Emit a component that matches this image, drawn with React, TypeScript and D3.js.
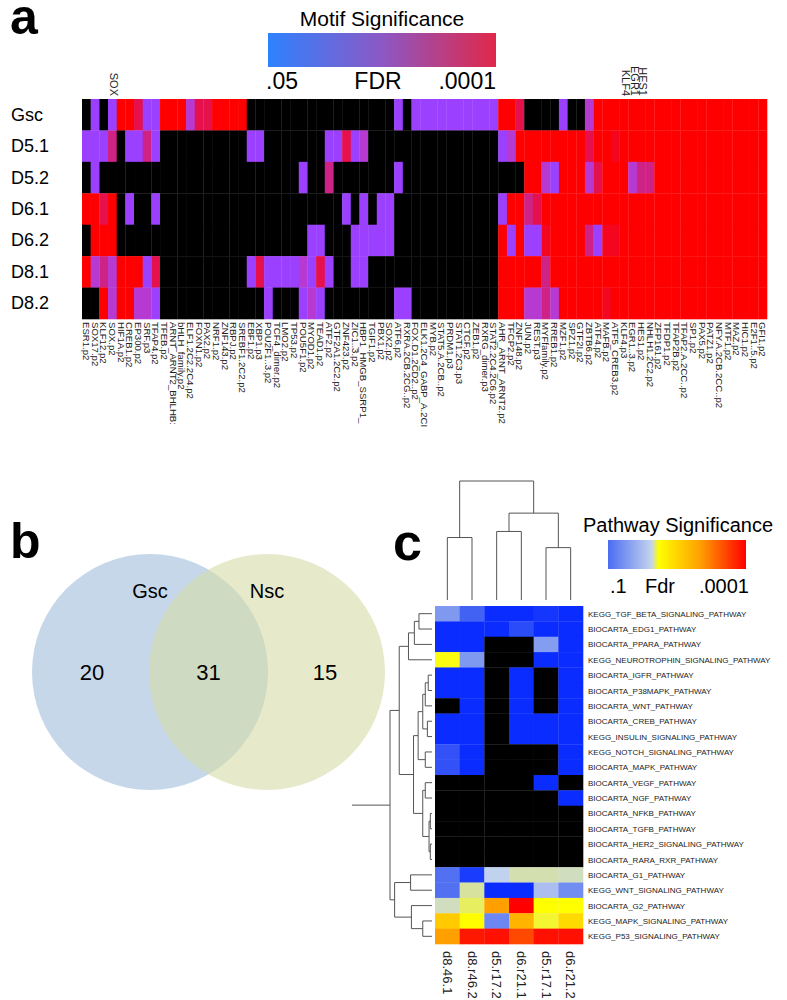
import React from "react";
import * as d3 from "d3";

// ---------- Panel a data ----------
const MOTIF_ROWS = ["Gsc", "D5.1", "D5.2", "D6.1", "D6.2", "D8.1", "D8.2"];
const MOTIF_COLS = ["ESR1.p2","SOX17.p2","KLF12.p2","SOX.p2","HIF1A.p2","CREB1.p2","EP300.p2","SRF.p3","TFAP4.p2","TFEB.p2","ARNT_ARNT2_BHLHB:","bHLH_family.p2","ELF1.2C2.2C4.p2","FOXN1.p2","PAX2.p2","NRF1.p2","ZNF143.p2","RBPJ.p2","SREBF1.2C2.p2","EBF1.p2","XBP1.p3","POU2F1..3.p2","TCF4_dimer.p2","LMO2.p2","TP53.p2","POU5F1.p2","MYOD1.p2","TEAD1.p2","ATF2.p2","GTF2A1.2C2.p2","ZNF423.p2","ZIC1..3.p2","HBP1_HMGB_SSRP1_","TGIF1.p2","PBX1.p2","SOX2.p2","ATF6.p2","RXRA.2CB.2CG..p2","FOX.D1.2CD2..p2","ELK1.2C4_GABP_A.2CI","MYB.p2","STAT5.A.2CB..p2","PRDM1.p3","STAT1.2C3.p3","CTCF.p2","ZEB1.p2","RXRG_dimer.p3","STAT2.2C4.2C6.p2","AHR_ARNT_ARNT2.p2","TFCP2.p2","ZNF148.p2","JUN.p2","REST.p3","MYFfamily.p2","RREB1.p2","MZF1.p2","SPZ1.p2","GTF2I.p2","ZBTB6.p2","ATF4.p2","MAFB.p2","ATF5_CREB3.p2","KLF4.p3","EGR1..3.p2","HES1.p2","NHLH1.2C2.p2","ZFP161.p2","TFDP1.p2","TFAP2B.p2","TFAP2.A.2CC..p2","SP1.p2","PAX5.p2","PATZ1.p2","NFY.A.2CB.2CC..p2","MTF1.p2","MAZ.p2","HIC1.p2","E2F1..5.p2","GFI1.p2"];
// one code per motif column: "." not significant, p..r increasing significance
const MOTIF_CODES = [
  ".p.prrcppr" + "rrqccrrrr." + ".........." + "......p.pp" + "pppppppprr" + "c....p..qr" + "rrrrrrrrrr" + "rrrrrrrrr",
  "pppm.ppmp." + ".........p" + "p.......pp" + "cpq......." + "........pq" + "rrrrrrrrcr" + "rdrrrrrrrr" + "rrrrrrrrr",
  ".p........" + ".........." + ".....p..m." + "......p..." + ".........." + ".rrqprrrqc" + "rrrqmmrrrr" + "rrrrrrrrr",
  "rrcr.p..p." + ".........." + ".........." + "p.p.pp...." + "........pr" + "rmcrrrrrrr" + "rrrrrrrrrr" + "rrrrrrrrr",
  ".rrr......" + ".........." + "......pp.." + ".ppppp...." + "........rp" + "rppdrrrrmp" + "ddrrrrrrrr" + "rrrrrrrrr",
  "rqmqrrrpc." + ".........p" + "cppppqpcp." + ".pp......." + "........rr" + "rrrmrrrrrr" + "rrrrrrrrrr" + "rrrrrrrrr",
  "..rqrrqqp." + ".........." + ".p...pqp.." + "......pp.." + "........rr" + "rqqmqrrrrr" + "drrrrrrrrr" + "rrrrrrrrr",
];
// -log10(FDR) for each code
const MOTIF_LEVEL: Record<string, number> = { ".": 0, p: 1.3, q: 2.0, m: 2.6, c: 3.2, d: 3.6, r: 4.0 };
const MOTIF_COLOR_DOMAIN = [1.3, 2.0, 2.6, 3.2, 3.6, 4.0];
const MOTIF_COLOR_RANGE = ["#9b40ff", "#b63ad2", "#cf2286", "#e6104c", "#f5061f", "#ff0000"];
const MOTIF_LEGEND_COLORS = ["#2e82ff", "#8c58c4", "#e0284a"];
const MOTIF_LEGEND_LABELS = [".05", "FDR", ".0001"];
const MOTIF_HIGHLIGHTS = [
  { col: "SOX.p2", text: "SOX" },
  { col: "KLF4.p3", text: "KLF4" },
  { col: "EGR1..3.p2", text: "EGR1" },
  { col: "HES1.p2", text: "HES1" },
];

// ---------- Panel b data ----------
const VENN_SETS = ["Gsc", "Nsc"];
const VENN_COUNTS = [20, 31, 15]; // Gsc only, shared, Nsc only
const VENN_COLORS = ["#c6d7ea", "#d5dca6"];

// ---------- Panel c data ----------
const PATHWAYS = ["KEGG_TGF_BETA_SIGNALING_PATHWAY","BIOCARTA_EDG1_PATHWAY","BIOCARTA_PPARA_PATHWAY","KEGG_NEUROTROPHIN_SIGNALING_PATHWAY","BIOCARTA_IGFR_PATHWAY","BIOCARTA_P38MAPK_PATHWAY","BIOCARTA_WNT_PATHWAY","BIOCARTA_CREB_PATHWAY","KEGG_INSULIN_SIGNALING_PATHWAY","KEGG_NOTCH_SIGNALING_PATHWAY","BIOCARTA_MAPK_PATHWAY","BIOCARTA_VEGF_PATHWAY","BIOCARTA_NGF_PATHWAY","BIOCARTA_NFKB_PATHWAY","BIOCARTA_TGFB_PATHWAY","BIOCARTA_HER2_SIGNALING_PATHWAY","BIOCARTA_RARA_RXR_PATHWAY","BIOCARTA_G1_PATHWAY","KEGG_WNT_SIGNALING_PATHWAY","BIOCARTA_G2_PATHWAY","KEGG_MAPK_SIGNALING_PATHWAY","KEGG_P53_SIGNALING_PATHWAY"];
const SAMPLES = ["d8.46.1", "d8.r46.2", "d5.r17.2", "d6.r21.1", "d5.r17.1", "d6.r21.2"];
const N = null;
// -log10(FDR), null = not significant
const PATHWAY_VALUES: (number | null)[][] = [
  [1.4, 0.97, 0.8, 0.8, 0.83, 0.8],
  [0.8, 0.8, 0.8, 0.9, 0.8, 0.8],
  [0.8, 0.8, N, N, 1.45, 0.8],
  [2.09, 1.4, N, N, 0.8, 0.8],
  [0.8, 0.8, N, 0.8, N, 0.8],
  [0.8, 0.8, N, 0.8, N, 0.8],
  [N, 0.8, N, 0.8, N, 0.8],
  [0.8, 0.8, N, 0.8, 0.8, 0.8],
  [0.8, 0.8, N, 0.8, 0.8, 0.8],
  [0.92, 0.8, N, N, N, 0.8],
  [0.92, 0.8, N, N, N, 0.8],
  [N, N, N, N, 0.8, N],
  [N, N, N, N, N, 0.8],
  [N, N, N, N, N, N],
  [N, N, N, N, N, N],
  [N, N, N, N, N, N],
  [N, N, N, N, N, N],
  [1.05, 0.85, 1.93, 1.99, 1.99, 1.98],
  [1.05, 2.0, 0.8, 0.8, 1.75, 1.3],
  [1.98, 2.04, 3.0, 4.0, 2.1, 2.1],
  [2.6, 2.12, 1.25, 2.8, 2.07, 2.45],
  [3.0, 3.85, 3.9, 3.55, 3.9, 3.9],
];
const PATHWAY_COLOR_DOMAIN = [0.8, 1.0, 1.95, 2.1, 3.0, 4.0];
const PATHWAY_COLOR_RANGE = ["#0a2cff", "#4c6cf2", "#c4d4ee", "#ffff00", "#ffa000", "#ff0000"];
const PATHWAY_LEGEND_LABELS = [".1", "Fdr", ".0001"];
// dendrograms: [height, left, right]; leaves are row / column indices
type Tree = number | [number, Tree, Tree];
const ROW_TREE: Tree = [1.0,
  [0.78,
    [0.56, [0.42, [0.31, 0, 1], 2], 3],
    [0.44,
      [0.33, [0.22, [0.16, [0.09, 4, 5], 6], [0.11, 7, 8]], [0.16, 9, 10]],
      [0.22, [0.16, 11, 12], [0.07, [0.04, 13, 14], [0.04, 15, 16]]]]],
  [0.89, [0.51, 17, 18], [0.49, 19, [0.22, 20, 21]]]];
const COL_TREE: Tree = [1.0, [0.525, 0, 1], [0.73, [0.576, 2, 3], [0.44, 4, 5]]];

const FONT = "'Liberation Sans', Arial, Helvetica, sans-serif";
const NARROW = "'Liberation Sans Narrow', 'Liberation Sans', Arial, sans-serif";

function dendro(tree: Tree, leafPos: (i: number) => number, hPos: (h: number) => number, horizontal: boolean) {
  const segs: [number, number, number, number][] = [];
  const walk = (t: Tree): { p: number; h: number } => {
    if (typeof t === "number") return { p: leafPos(t), h: 0 };
    const [h, l, r] = t;
    const a = walk(l), b = walk(r);
    const H = hPos(h);
    if (horizontal) {
      segs.push([hPos(a.h), a.p, H, a.p]);
      segs.push([hPos(b.h), b.p, H, b.p]);
      segs.push([H, a.p, H, b.p]);
    } else {
      segs.push([a.p, hPos(a.h), a.p, H]);
      segs.push([b.p, hPos(b.h), b.p, H]);
      segs.push([a.p, H, b.p, H]);
    }
    return { p: (a.p + b.p) / 2, h };
  };
  const root = walk(tree);
  return { segs, root };
}

export default function App() {
  // ----- panel a -----
  const xA = d3.scaleBand().domain(MOTIF_COLS).range([82, 767]);
  const yA = d3.scaleBand().domain(MOTIF_ROWS).range([99, 319]);
  const colorA = d3.scaleLinear<string>().domain(MOTIF_COLOR_DOMAIN).range(MOTIF_COLOR_RANGE).clamp(true);
  const legA = { x: 268, w: 228, y: 33, h: 34 };

  // ----- panel b -----
  const vennR = 118;
  const xV = d3.scalePoint().domain(VENN_SETS).range([150, 267]);
  const vennCy = 672;

  // ----- panel c -----
  const xC = d3.scaleBand().domain(SAMPLES).range([435, 583]);
  const yC = d3.scaleBand().domain(PATHWAYS).range([606, 944]);
  const colorC = d3.scaleLinear<string>().domain(PATHWAY_COLOR_DOMAIN).range(PATHWAY_COLOR_RANGE).clamp(true);
  const rowH = d3.scaleLinear().domain([0, 1]).range([432, 390]);
  const colH = d3.scaleLinear().domain([0, 1]).range([600, 481]);
  const rowD = dendro(ROW_TREE, (i) => (yC(PATHWAYS[i]) as number) + yC.bandwidth() / 2, rowH, true);
  const colD = dendro(COL_TREE, (i) => (xC(SAMPLES[i]) as number) + xC.bandwidth() / 2, colH, false);
  const legC = { x: 608, w: 138, y: 540, h: 29 };
  const legCScale = d3.scaleLinear().domain([1.0, 4.0]).range([0, 100]);
  const legCStops = PATHWAY_COLOR_DOMAIN.filter((d) => d >= 1.0);

  return (
    <svg width={787} height={1000} style={{ position: "absolute", left: 0, top: 0, background: "#fff" }} fontFamily={FONT}>
      <defs>
        <linearGradient id="legA" x1="0" x2="1" y1="0" y2="0">
          {MOTIF_LEGEND_COLORS.map((c, i) => (
            <stop key={i} offset={`${(i / (MOTIF_LEGEND_COLORS.length - 1)) * 100}%`} stopColor={c} />
          ))}
        </linearGradient>
        <linearGradient id="legC" x1="0" x2="1" y1="0" y2="0">
          {legCStops.map((d, i) => (
            <stop key={i} offset={`${legCScale(d)}%`} stopColor={colorC(d)} />
          ))}
        </linearGradient>
      </defs>

      {/* ===== Panel a ===== */}
      <text x={10} y={34} fontSize={50} fontWeight="bold">a</text>
      <text x={legA.x + legA.w / 2} y={26} fontSize={21} textAnchor="middle">Motif Significance</text>
      <rect x={legA.x} y={legA.y} width={legA.w} height={legA.h} fill="url(#legA)" />
      <text x={legA.x - 2} y={89} fontSize={23} textAnchor="start">{MOTIF_LEGEND_LABELS[0]}</text>
      <text x={legA.x + legA.w / 2 - 4} y={89} fontSize={23} textAnchor="middle">{MOTIF_LEGEND_LABELS[1]}</text>
      <text x={legA.x + legA.w} y={89} fontSize={23} textAnchor="end">{MOTIF_LEGEND_LABELS[2]}</text>

      {MOTIF_HIGHLIGHTS.map((h) => {
        const cx = (xA(h.col) as number) + xA.bandwidth() / 2 - 2;
        return (
          <text key={h.text} transform={`translate(${cx},${96}) rotate(90)`} fontSize={11} textAnchor="end" fill="#222">{h.text}</text>
        );
      })}

      {MOTIF_ROWS.map((r, ri) => (
        <g key={r}>
          <text x={11} y={(yA(r) as number) + yA.bandwidth() / 2 + 6} fontSize={18}>{r}</text>
          {MOTIF_COLS.map((c, ci) => {
            const v = MOTIF_LEVEL[MOTIF_CODES[ri][ci]];
            return (
              <rect key={c} x={xA(c)} y={yA(r)} width={xA.bandwidth() + 0.3} height={yA.bandwidth() + 0.3}
                fill={v > 0 ? colorA(v) : "#000"} />
            );
          })}
        </g>
      ))}
      {MOTIF_COLS.map((c) => {
        const cx = (xA(c) as number) + xA.bandwidth() / 2 - 3.4;
        return (
          <text key={c} transform={`translate(${cx},${322}) rotate(90)`} fontSize={9.6} fontFamily={NARROW} fill="#222">{c}</text>
        );
      })}

      {/* ===== Panel b ===== */}
      <text x={10} y={558} fontSize={50} fontWeight="bold">b</text>
      <circle cx={xV(VENN_SETS[0])} cy={vennCy} r={vennR} fill={VENN_COLORS[0]} />
      <circle cx={xV(VENN_SETS[1])} cy={vennCy} r={vennR} fill={VENN_COLORS[1]} fillOpacity={0.6} />
      {VENN_SETS.map((s) => (
        <text key={s} x={xV(s)} y={598} fontSize={20} textAnchor="middle">{s}</text>
      ))}
      {VENN_COUNTS.map((n, i) => {
        const a = xV(VENN_SETS[0]) as number, b = xV(VENN_SETS[1]) as number;
        const cx = i === 0 ? a - 58 : i === 1 ? (a + b) / 2 : b + 58;
        return <text key={i} x={cx} y={680} fontSize={22} textAnchor="middle">{n}</text>;
      })}

      {/* ===== Panel c ===== */}
      <text x={393} y={560} fontSize={52} fontWeight="bold">c</text>
      <text x={legC.x + legC.w / 2 + 1} y={532} fontSize={20} textAnchor="middle">Pathway Significance</text>
      <rect x={legC.x} y={legC.y} width={legC.w} height={legC.h} fill="url(#legC)" />
      <text x={legC.x + 2} y={593} fontSize={20} textAnchor="start">{PATHWAY_LEGEND_LABELS[0]}</text>
      <text x={legC.x + 52} y={593} fontSize={20} textAnchor="middle">{PATHWAY_LEGEND_LABELS[1]}</text>
      <text x={legC.x + legC.w + 3} y={593} fontSize={20} textAnchor="end">{PATHWAY_LEGEND_LABELS[2]}</text>

      <g stroke="#555" strokeWidth={1} fill="none">
        {colD.segs.map((s, i) => (<line key={i} x1={s[0]} y1={s[1]} x2={s[2]} y2={s[3]} />))}
        {rowD.segs.map((s, i) => (<line key={"r" + i} x1={s[0]} y1={s[1]} x2={s[2]} y2={s[3]} />))}
        <line x1={352} y1={rowD.root.p} x2={rowH(1)} y2={rowD.root.p} />
      </g>

      {PATHWAYS.map((p, ri) => (
        <g key={p}>
          {SAMPLES.map((s, ci) => {
            const v = PATHWAY_VALUES[ri][ci];
            return (
              <rect key={s} x={xC(s)} y={yC(p)} width={xC.bandwidth() + 0.3} height={yC.bandwidth() + 0.3}
                fill={v == null ? "#000" : colorC(v)} />
            );
          })}
          <text x={588} y={(yC(p) as number) + yC.bandwidth() / 2 + 3} fontSize={8} fill="#222">{p}</text>
        </g>
      ))}
      {SAMPLES.map((s) => {
        const cx = (xC(s) as number) + xC.bandwidth() / 2 - 4.5;
        return (
          <text key={s} transform={`translate(${cx},${951}) rotate(90)`} fontSize={13} fill="#222">{s}</text>
        );
      })}
    </svg>
  );
}
